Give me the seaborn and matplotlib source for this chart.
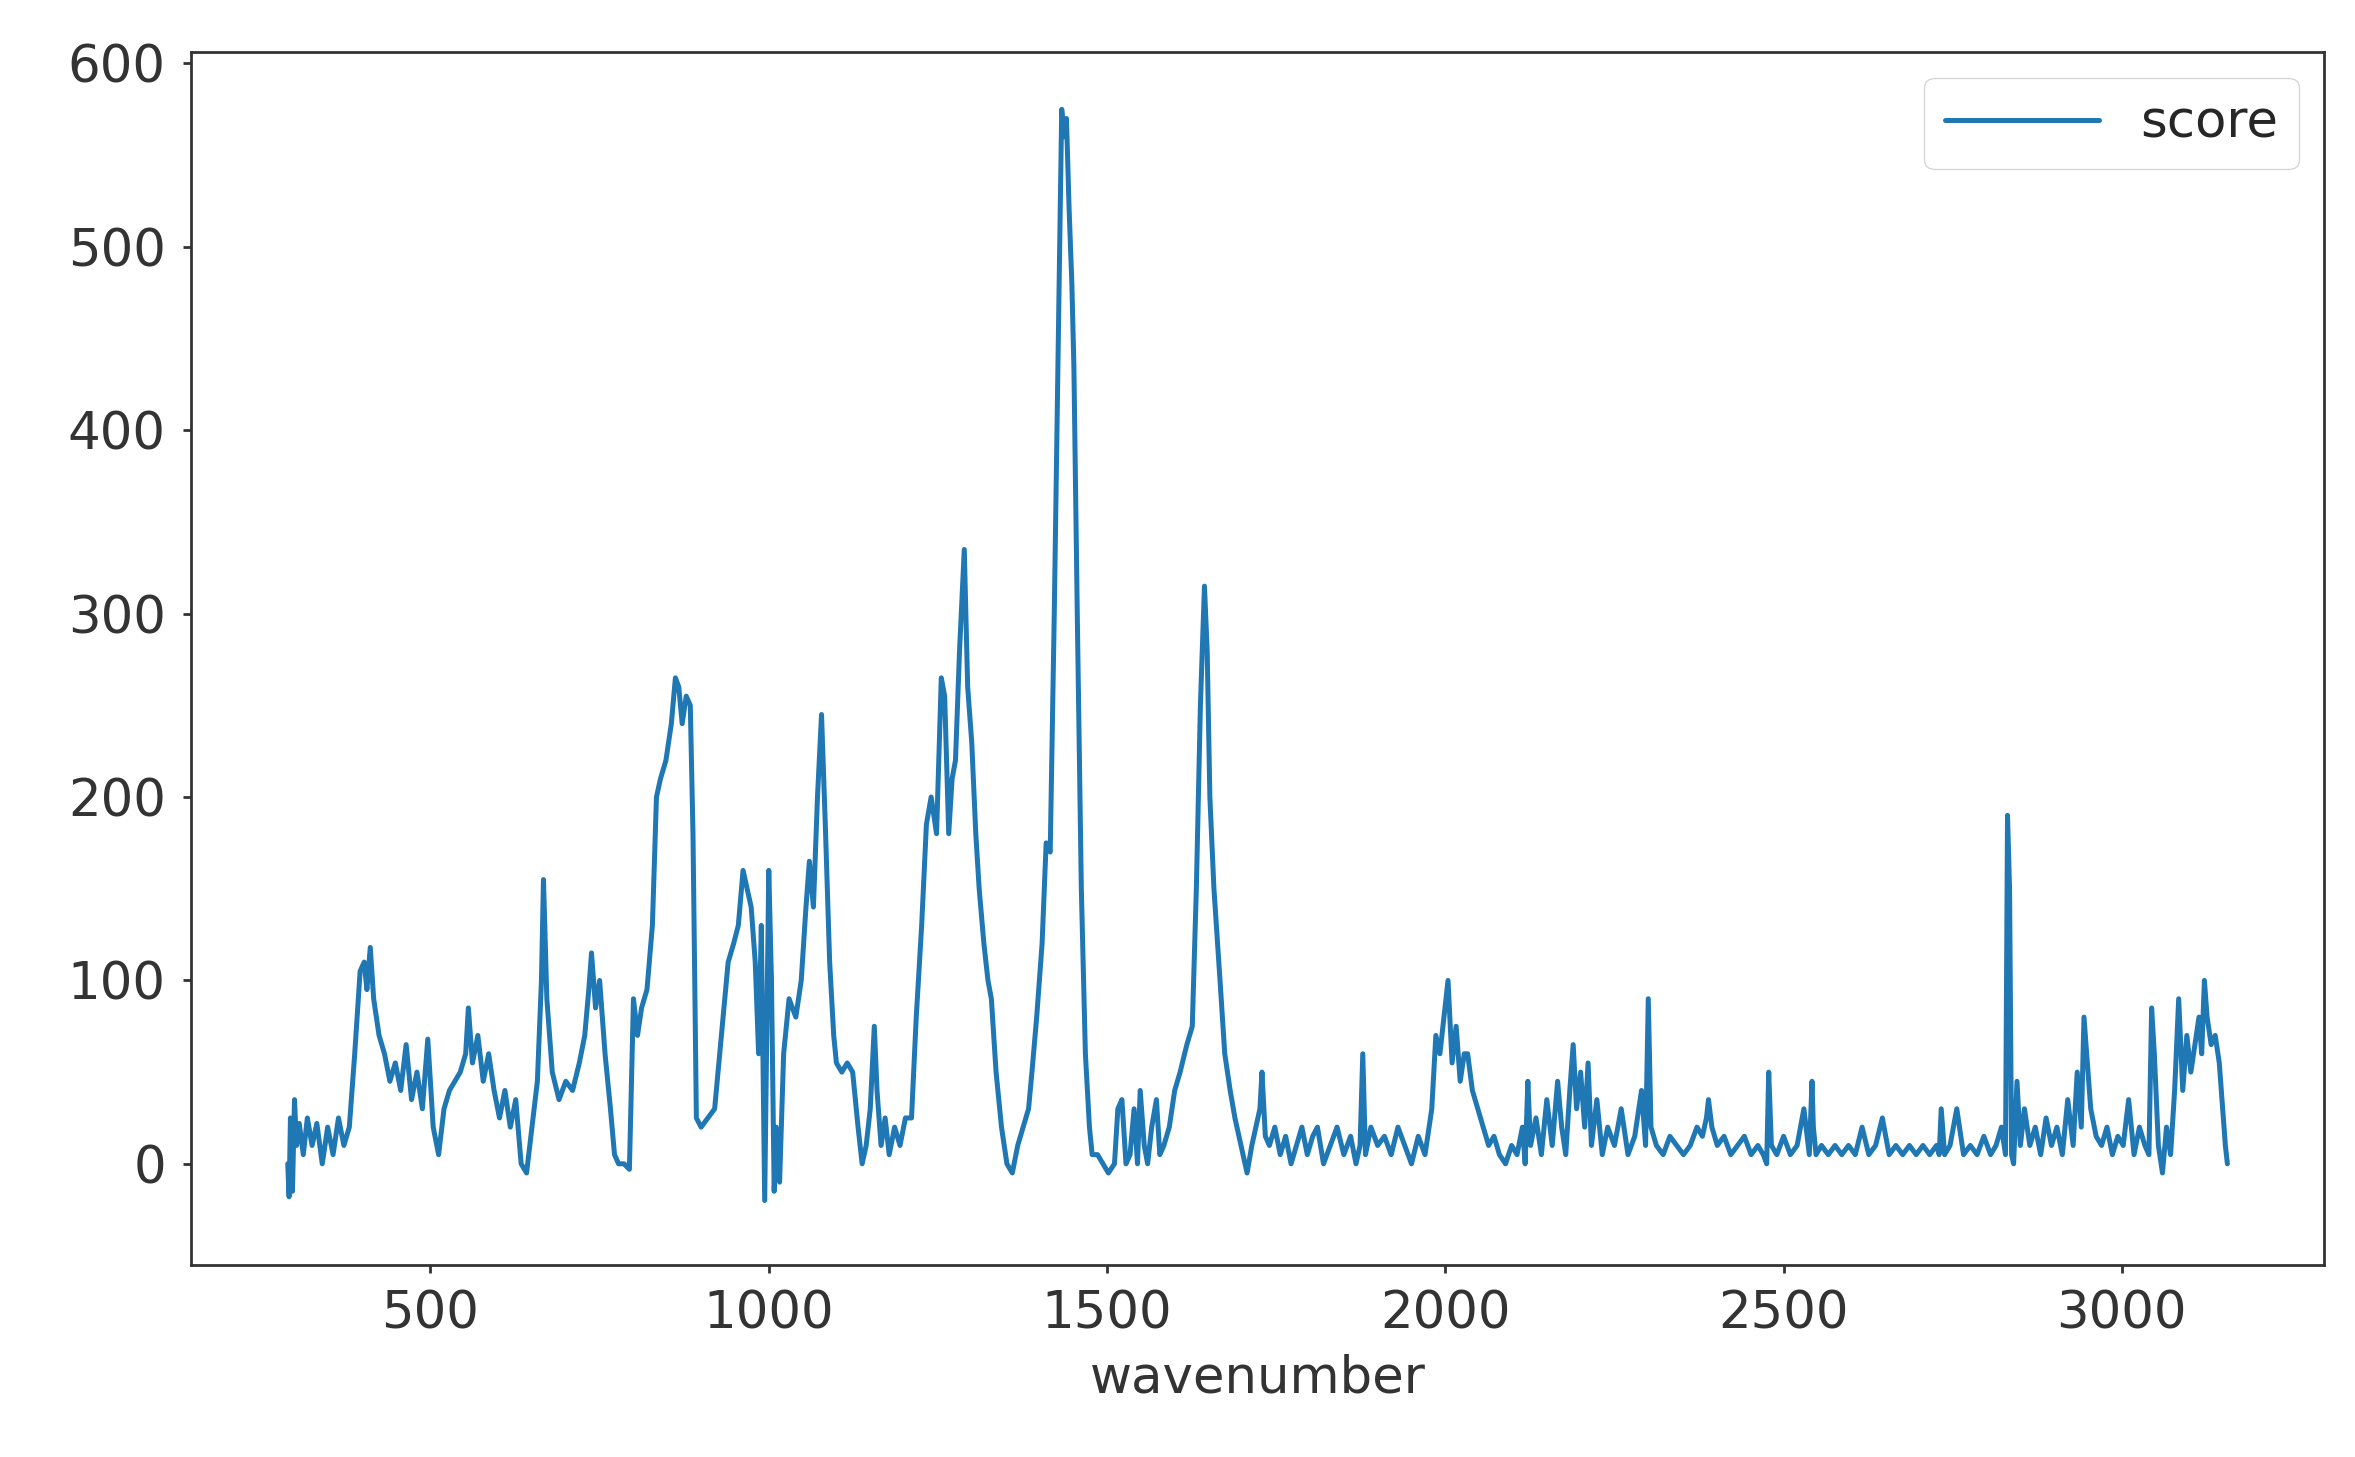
import numpy as np
import pandas as pd
import matplotlib
matplotlib.use("Agg")
import matplotlib.pyplot as plt
import seaborn as sns

wavenumber = [
    289, 291, 293, 296, 299, 302, 306, 312, 318, 325, 332, 340, 348, 356, 364, 372, 380, 388,
    396, 402, 406, 411, 416, 424, 432, 440, 448, 456, 464, 472, 480, 488, 496, 504, 512, 520,
    528, 536, 544, 552, 556, 562, 570, 578, 586, 594, 602, 610, 618, 626, 634, 642, 650, 658,
    664, 667, 672, 680, 690, 700, 710, 720, 728, 734, 738, 744, 750, 758, 766, 772, 778, 786,
    794, 800, 806, 812, 820, 828, 834, 840, 848, 856, 862, 867, 872, 878, 884, 888, 893, 900,
    910, 920, 930, 940, 948, 955, 962, 968, 974, 980, 985, 989, 994, 1000, 1004, 1008, 1011,
    1016, 1022, 1030, 1040, 1048, 1055, 1060, 1066, 1072, 1078, 1084, 1090, 1096, 1100, 1108,
    1116, 1124, 1132, 1138, 1144, 1150, 1156, 1160, 1166, 1172, 1178, 1186, 1194, 1202, 1211,
    1218, 1226, 1233, 1240, 1248, 1255, 1260, 1266, 1271, 1276, 1282, 1289, 1294, 1300, 1306,
    1311, 1318, 1324, 1329, 1336, 1344, 1352, 1360, 1368, 1376, 1384, 1389, 1396, 1404, 1410,
    1416, 1422, 1428, 1433, 1437, 1440, 1444, 1448, 1451, 1456, 1462, 1468, 1474, 1478, 1486,
    1494, 1502, 1511, 1516, 1522, 1528, 1534, 1540, 1545, 1549, 1555, 1560, 1566, 1573, 1578,
    1584, 1592, 1600, 1608, 1618, 1626, 1632, 1638, 1644, 1648, 1652, 1658, 1667, 1674, 1682,
    1689, 1698, 1707, 1714, 1720, 1726, 1729, 1734, 1740, 1748, 1756, 1764, 1772, 1780, 1788,
    1796, 1804, 1811, 1820, 1830, 1840, 1850, 1860, 1868, 1874, 1878, 1882, 1890, 1900, 1910,
    1920, 1930, 1940, 1950, 1960, 1970, 1980, 1986, 1992, 1998, 2004, 2010, 2016, 2022, 2028,
    2033, 2040, 2048, 2056, 2064, 2072, 2080, 2089, 2098, 2106, 2114, 2118, 2122, 2126, 2134,
    2142, 2150, 2158, 2166, 2172, 2178, 2184, 2189, 2194, 2200, 2206, 2211, 2216, 2224, 2232,
    2240, 2250, 2260, 2270, 2280, 2290, 2296, 2300, 2304, 2312, 2322, 2332, 2342, 2352, 2362,
    2372, 2380, 2386, 2389, 2394, 2402, 2412, 2422, 2432, 2442, 2452, 2462, 2470, 2475, 2478,
    2482, 2490, 2500, 2510, 2520, 2530, 2538, 2542, 2544, 2548, 2556, 2566, 2576, 2586, 2596,
    2606, 2616, 2626, 2636, 2646, 2656, 2666, 2676, 2686, 2696, 2706, 2716, 2726, 2730, 2733,
    2738, 2746, 2756, 2766, 2776, 2786, 2796, 2806, 2814, 2822, 2828, 2831, 2834, 2837, 2840,
    2845, 2850, 2856, 2864, 2872, 2880, 2888, 2896, 2904, 2912, 2920, 2928, 2934, 2940, 2944,
    2948, 2954, 2962, 2970, 2978, 2986, 2994, 3002, 3010, 3018, 3026, 3034, 3040, 3044, 3048,
    3054, 3060, 3066, 3072, 3078, 3084, 3090, 3096, 3102, 3108, 3114, 3118, 3122, 3126, 3132,
    3138, 3144, 3149, 3153, 3156,
]
score = [
    0, -18, 25, -15, 35, 10, 22, 5, 25, 10, 22, 0, 20, 5, 25, 10, 20, 60,
    105, 110, 95, 118, 90, 70, 60, 45, 55, 40, 65, 35, 50, 30, 68, 20, 5, 30,
    40, 45, 50, 60, 85, 55, 70, 45, 60, 40, 25, 40, 20, 35, 0, -5, 20, 45,
    100, 155, 90, 50, 35, 45, 40, 55, 70, 95, 115, 85, 100, 60, 30, 5, 0, 0,
    -3, 90, 70, 85, 95, 130, 200, 210, 220, 240, 265, 260, 240, 255, 250, 180, 25, 20,
    25, 30, 70, 110, 120, 130, 160, 150, 140, 110, 60, 130, -20, 160, 100, -15, 20,
    -10, 60, 90, 80, 100, 140, 165, 140, 200, 245, 180, 110, 70, 55, 50,
    55, 50, 20, 0, 10, 30, 75, 40, 10, 25, 5, 20, 10, 25, 25,
    80, 130, 185, 200, 180, 265, 255, 180, 210, 220, 280, 335, 260, 230, 180,
    150, 120, 100, 90, 50, 20, 0, -5, 10, 20, 30, 50, 80, 120, 175,
    170, 300, 450, 575, 560, 570, 520, 480, 435, 300, 150, 60, 20, 5, 5,
    0, -5, 0, 30, 35, 0, 5, 30, 0, 40, 10, 0, 20, 35, 5,
    10, 20, 40, 50, 65, 75, 150, 250, 315, 280, 200, 150, 100, 60, 40,
    25, 10, -5, 10, 20, 30, 50, 15, 10, 20, 5, 15, 0, 10, 20,
    5, 15, 20, 0, 10, 20, 5, 15, 0, 10, 60, 5, 20, 10, 15,
    5, 20, 10, 0, 15, 5, 30, 70, 60, 80, 100, 55, 75, 45, 60,
    60, 40, 30, 20, 10, 15, 5, 0, 10, 5, 20, 0, 45, 10, 25,
    5, 35, 10, 45, 20, 5, 40, 65, 30, 50, 20, 55, 10, 35, 5,
    20, 10, 30, 5, 15, 40, 10, 90, 20, 10, 5, 15, 10, 5, 10,
    20, 15, 25, 35, 20, 10, 15, 5, 10, 15, 5, 10, 5, 0, 50,
    10, 5, 15, 5, 10, 30, 5, 45, 20, 5, 10, 5, 10, 5, 10,
    5, 20, 5, 10, 25, 5, 10, 5, 10, 5, 10, 5, 10, 5, 30,
    5, 10, 30, 5, 10, 5, 15, 5, 10, 20, 5, 190, 150, 5, 0,
    45, 10, 30, 10, 20, 5, 25, 10, 20, 5, 35, 10, 50, 20, 80,
    60, 30, 15, 10, 20, 5, 15, 10, 35, 5, 20, 10, 5, 85, 60,
    10, -5, 20, 5, 40, 90, 40, 70, 50, 65, 80, 60, 100, 80, 65,
    70, 55, 30, 10, 0,
]

df = pd.DataFrame({"wavenumber": wavenumber, "score": score})

sns.set_style("white")
fig, ax = plt.subplots(figsize=(23.55, 14.57), dpi=100)
sns.lineplot(data=df, x="wavenumber", y="score", ax=ax, sort=False,
             estimator=None, color="#1f77b4", linewidth=3.6, label="score")

ax.set_ylim(-55, 606)
ax.set_yticks([0, 100, 200, 300, 400, 500, 600])
ax.set_xticks([500, 1000, 1500, 2000, 2500, 3000])
ax.set_ylabel("")
ax.set_xlabel("wavenumber", fontsize=37, color="#333333", labelpad=10)
ax.tick_params(labelsize=37, colors="#333333", length=6, width=2, direction="out",
               left=True, bottom=True, pad=12)
for s in ax.spines.values():
    s.set_linewidth(2)
    s.set_color("#333333")
leg = ax.legend(loc="upper right", fontsize=37, handlelength=3, frameon=True)
leg.get_frame().set_edgecolor("#cccccc")

plt.subplots_adjust(left=0.081, right=0.987, top=0.964, bottom=0.132)
plt.savefig("out.png", dpi=100)
